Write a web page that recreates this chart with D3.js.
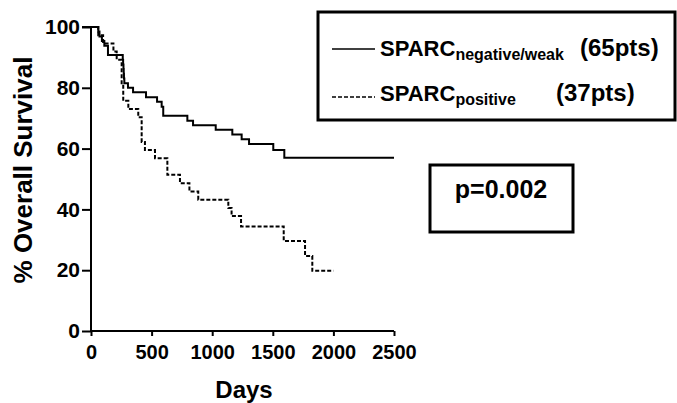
<html>
    <head>
        <title>SPARC survival</title>
        <style>
            body { margin: 0; background: #fff; }
            text { font-family: "Liberation Sans", Arial, sans-serif; font-weight: bold; fill: #000; }
        </style>
    </head>

    <body>
        <script src="https://d3js.org/d3.v7.min.js"></script>
        <script>
            // SPARC negative/weak (65 pts)
            var negDays = [0, 60, 70, 90, 110, 140, 262, 265, 268, 270, 272, 275, 305, 347, 454, 545, 583, 596, 795, 842, 1029, 1166, 1243, 1304, 1504, 1595, 2500];
            var negSurv = [100, 98.5, 96.9, 95.4, 93.8, 90.8, 89.2, 87.7, 86.2, 84.6, 83.1, 81.5, 80.0, 78.5, 76.9, 75.4, 73.8, 70.8, 69.2, 67.7, 66.2, 64.6, 63.1, 61.5, 59.5, 57.0, 57.0];

            // SPARC positive (37 pts)
            var posDays = [0, 60, 100, 185, 212, 253, 266, 308, 390, 418, 445, 528, 630, 734, 812, 885, 1133, 1160, 1238, 1590, 1766, 1826, 2000];
            var posSurv = [100, 97.3, 94.6, 91.9, 89.2, 81.1, 75.7, 73.0, 70.3, 62.2, 59.5, 56.8, 51.4, 48.6, 45.9, 43.2, 40.5, 37.8, 34.4, 29.6, 24.7, 19.8, 19.8];

            var xTicks = [0, 500, 1000, 1500, 2000, 2500];
            var yTicks = [0, 20, 40, 60, 80, 100];

            var svg = d3.select('body')
            .append('svg')
            .attr('width', 677)
            .attr('height', 403);

            var x = d3.scaleLinear().domain([0, 2500]).range([91, 394]);
            var y = d3.scaleLinear().domain([0, 100]).range([331, 27]);

            var yAxis = svg.append('g')
            .attr('transform', 'translate(91,0)')
            .call(d3.axisLeft(y).tickValues(yTicks).tickSize(9).tickPadding(2).tickFormat(d3.format('d')));

            var xAxis = svg.append('g')
            .attr('transform', 'translate(0,331)')
            .call(d3.axisBottom(x).tickValues(xTicks).tickSize(5).tickPadding(9).tickFormat(d3.format('d')));

            [yAxis, xAxis].forEach(function(g) {
                g.select('.domain').attr('stroke-width', 2).attr('stroke', '#000');
                g.selectAll('.tick line').attr('stroke-width', 2).attr('stroke', '#000');
                g.selectAll('.tick text')
                .style('font-family', '"Liberation Sans", Arial, sans-serif')
                .style('font-weight', 'bold')
                .style('font-size', '20px')
                .attr('fill', '#000');
            });
            yAxis.selectAll('.tick text').style('font-size', '21px');
            yAxis.select('.domain').attr('d', 'M-9,' + y(100) + 'H0V' + y(0));
            xAxis.select('.domain').attr('d', 'M' + x(0) + ',0H' + x(2500));

            var line = d3.line()
            .curve(d3.curveStepAfter)
            .x(function(d) { return x(d[0]); })
            .y(function(d) { return y(d[1]); });

            svg.append('path')
            .datum(d3.zip(negDays, negSurv))
            .attr('d', line)
            .attr('fill', 'none')
            .attr('stroke', '#000')
            .attr('stroke-width', 2);

            svg.append('path')
            .datum(d3.zip(posDays, posSurv))
            .attr('d', line)
            .attr('fill', 'none')
            .attr('stroke', '#000')
            .attr('stroke-width', 2)
            .attr('stroke-dasharray', '4,2');

            // axis titles
            svg.append('text')
            .attr('transform', 'translate(32,170) rotate(-90)')
            .attr('text-anchor', 'middle')
            .style('font-size', '26px')
            .text('% Overall Survival');

            svg.append('text')
            .attr('x', 244)
            .attr('y', 398)
            .attr('text-anchor', 'middle')
            .style('font-size', '24px')
            .text('Days');

            // legend
            svg.append('rect')
            .attr('x', 318)
            .attr('y', 12)
            .attr('width', 357)
            .attr('height', 108)
            .attr('fill', 'none')
            .attr('stroke', '#000')
            .attr('stroke-width', 3);

            var legend = [
                { sub: 'negative/weak', n: '(65pts)', ly: 49, ty: 55.5, nx: 580, dash: null },
                { sub: 'positive', n: '(37pts)', ly: 97, ty: 101, nx: 556, dash: '4,2' }
            ];

            legend.forEach(function(d) {
                svg.append('line')
                .attr('x1', 332)
                .attr('x2', 375)
                .attr('y1', d.ly)
                .attr('y2', d.ly)
                .attr('stroke', '#000')
                .attr('stroke-width', 1.5)
                .attr('stroke-dasharray', d.dash);

                var t = svg.append('text')
                .attr('x', 380)
                .attr('y', d.ty)
                .style('font-size', '22px');
                t.append('tspan').text('SPARC');
                t.append('tspan')
                .attr('dy', 4)
                .style('font-size', '16px')
                .text(d.sub);
                t.append('tspan')
                .attr('x', d.nx)
                .attr('y', d.ty)
                .style('font-size', '24px')
                .text(d.n);
            });

            // p value box
            svg.append('rect')
            .attr('x', 430)
            .attr('y', 165)
            .attr('width', 143)
            .attr('height', 67)
            .attr('fill', 'none')
            .attr('stroke', '#000')
            .attr('stroke-width', 3);

            svg.append('text')
            .attr('x', 501)
            .attr('y', 198)
            .attr('text-anchor', 'middle')
            .style('font-size', '25px')
            .text('p=0.002');
        </script>
    </body>
</html>
